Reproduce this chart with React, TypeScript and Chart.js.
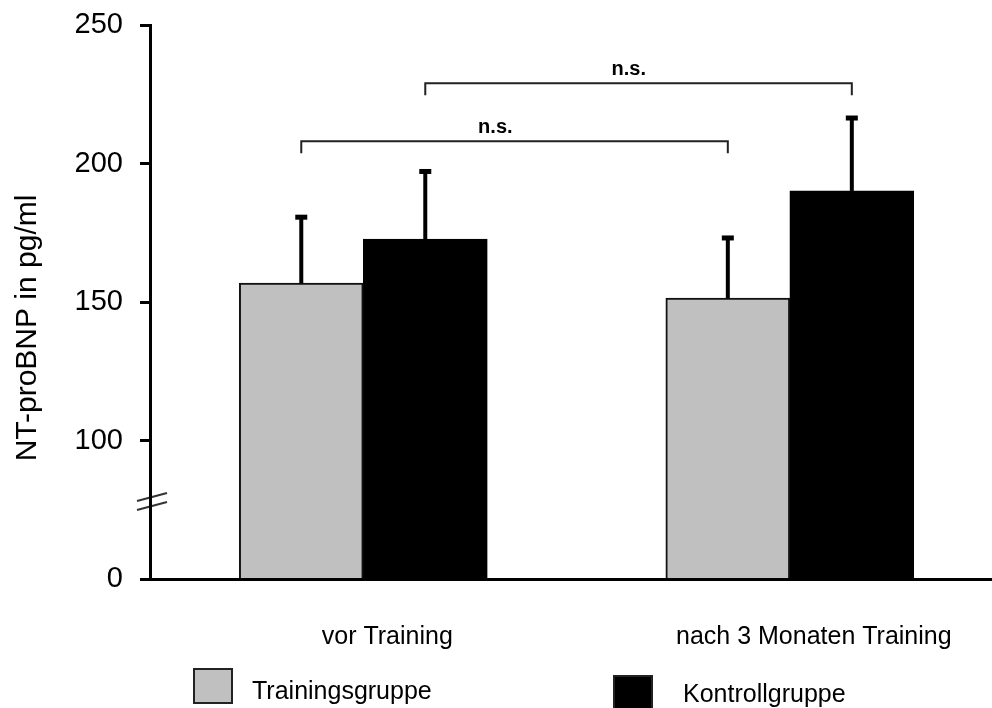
import React, { useEffect, useRef } from "react";
import { Chart, registerables } from "chart.js";

Chart.register(...registerables);

// Groups on the x axis
const categories = ["vor Training", "nach 3 Monaten Training"];

// Series: NT-proBNP means (pg/ml) and their standard deviations
const seriesLabels = ["Trainingsgruppe", "Kontrollgruppe"];
const trainingMeans = [156.8, 151.4];
const trainingSD = [24.0, 21.9];
const kontrollMeans = [172.7, 190.1];
const kontrollSD = [24.6, 26.5];

// y-axis ticks; the lowest tick sits below the axis break and reads "0"
const yTicks = [50, 100, 150, 200, 250];
const yTickLabels = ["0", "100", "150", "200", "250"];
const axisBreakValue = 78;

// Significance brackets: series compared across both groups, level, text
const bracketSeries = [0, 1];
const bracketLevels = [208, 229];
const bracketLabels = ["n.s.", "n.s."];

const FONT = "'Liberation Sans', Arial, Helvetica, sans-serif";
const seriesColors = ["#c0c0c0", "#000000"];

const overlayPlugin = {
  id: "overlay",
  afterDatasetsDraw(chart: any) {
    const { ctx } = chart;
    const yScale = chart.scales.y;
    const sds = [trainingSD, kontrollSD];
    const means = [trainingMeans, kontrollMeans];

    ctx.save();
    // upward error bars with small square caps
    chart.data.datasets.forEach((_: any, di: number) => {
      const meta = chart.getDatasetMeta(di);
      meta.data.forEach((el: any, i: number) => {
        const x = el.x;
        const yTop = yScale.getPixelForValue(means[di][i] + sds[di][i]);
        ctx.strokeStyle = "#000";
        ctx.lineWidth = 4;
        ctx.beginPath();
        ctx.moveTo(x, el.y);
        ctx.lineTo(x, yTop);
        ctx.stroke();
        ctx.fillStyle = "#000";
        ctx.fillRect(x - 6, yTop - 2, 12, 5);
      });
    });

    // brackets between the two time points of one series
    const labelFrac = [0.455, 0.477];
    bracketSeries.forEach((si, b) => {
      const meta = chart.getDatasetMeta(si);
      const x1 = meta.data[0].x;
      const x2 = meta.data[1].x;
      const y = yScale.getPixelForValue(bracketLevels[b]);
      ctx.strokeStyle = "#222";
      ctx.lineWidth = 2;
      ctx.beginPath();
      ctx.moveTo(x1, y + 12);
      ctx.lineTo(x1, y);
      ctx.lineTo(x2, y);
      ctx.lineTo(x2, y + 12);
      ctx.stroke();
      ctx.fillStyle = "#000";
      ctx.font = `bold 20px ${FONT}`;
      ctx.textAlign = "center";
      ctx.textBaseline = "alphabetic";
      ctx.fillText(bracketLabels[b], x1 + (x2 - x1) * labelFrac[b], y - 8);
    });

    // axis break marks
    const left = chart.chartArea.left;
    const yb = yScale.getPixelForValue(axisBreakValue);
    ctx.strokeStyle = "#333";
    ctx.lineWidth = 2;
    [-4.5, 4.5].forEach((d) => {
      ctx.beginPath();
      ctx.moveTo(left - 13, yb + d + 4);
      ctx.lineTo(left + 17, yb + d - 4);
      ctx.stroke();
    });

    // y-axis title
    ctx.save();
    ctx.translate(28, 328);
    ctx.rotate(-Math.PI / 2);
    ctx.fillStyle = "#000";
    ctx.font = `30px ${FONT}`;
    ctx.textAlign = "center";
    ctx.textBaseline = "middle";
    ctx.fillText("NT-proBNP in pg/ml", 0, 0);
    ctx.restore();

    // legend
    const legendItems = [
      { bx: 193, by: 668, tx: 252, ty: 692 },
      { bx: 613, by: 675, tx: 683, ty: 695 },
    ];
    legendItems.forEach((it, i) => {
      ctx.fillStyle = seriesColors[i];
      ctx.fillRect(it.bx, it.by, 40, 36);
      ctx.strokeStyle = "#222";
      ctx.lineWidth = 2;
      ctx.strokeRect(it.bx + 1, it.by + 1, 38, 34);
      ctx.fillStyle = "#000";
      ctx.font = `25px ${FONT}`;
      ctx.textAlign = "left";
      ctx.textBaseline = "middle";
      ctx.fillText(seriesLabels[i], it.tx, it.ty);
    });
    ctx.restore();
  },
};

export default function App() {
  const canvasRef = useRef<HTMLCanvasElement | null>(null);

  useEffect(() => {
    if (!canvasRef.current) return;
    const chart = new Chart(canvasRef.current, {
      type: "bar",
      data: {
        datasets: [
          {
            label: seriesLabels[0],
            data: trainingMeans.map((v, i) => ({ x: i + 1, y: v })),
            backgroundColor: seriesColors[0],
            borderColor: "#111",
            borderWidth: 2,
            barThickness: 124,
          },
          {
            label: seriesLabels[1],
            data: kontrollMeans.map((v, i) => ({ x: i + 1, y: v })),
            backgroundColor: seriesColors[1],
            borderColor: "#000",
            borderWidth: 1,
            barThickness: 124,
          },
        ],
      },
      options: {
        responsive: false,
        animation: false,
        layout: { padding: { top: 25, right: 0, bottom: 0, left: 0 } },
        plugins: {
          legend: { display: false },
          tooltip: { enabled: false },
        },
        scales: {
          x: {
            type: "linear",
            min: 0.5,
            max: 2.474,
            offset: false,
            afterFit: (s: any) => {
              s.height = 129;
              s.paddingLeft = 0;
              s.paddingRight = 0;
            },
            afterBuildTicks: (s: any) => {
              s.ticks = categories.map((_, i) => ({ value: i + 1 }));
            },
            ticks: {
              autoSkip: false,
              maxRotation: 0,
              labelOffset: 24,
              padding: 43,
              color: "#000",
              font: { family: FONT, size: 25 },
              callback: (v: any) => categories[Math.round(v) - 1] ?? "",
            },
            grid: { display: false, drawTicks: false },
            border: { display: true, color: "#000", width: 3, z: 1 },
          },
          y: {
            min: 50,
            max: 250,
            afterFit: (s: any) => {
              s.width = 150;
              s.paddingTop = 0;
              s.paddingBottom = 0;
            },
            afterBuildTicks: (s: any) => {
              s.ticks = yTicks.map((v) => ({ value: v }));
            },
            ticks: {
              padding: 17,
              color: "#000",
              font: { family: FONT, size: 29 },
              callback: (v: any) => yTickLabels[yTicks.indexOf(v)] ?? "",
            },
            grid: {
              drawOnChartArea: false,
              drawTicks: true,
              tickLength: 10,
              lineWidth: 3,
              color: "#000",
            },
            border: { display: true, color: "#000", width: 3, z: 1 },
          },
        },
      },
      plugins: [overlayPlugin],
    });
    return () => chart.destroy();
  }, []);

  return (
    <div style={{ position: "absolute", left: 0, top: 0, width: 992, height: 708, background: "#fff" }}>
      <canvas ref={canvasRef} width={992} height={708} />
    </div>
  );
}
